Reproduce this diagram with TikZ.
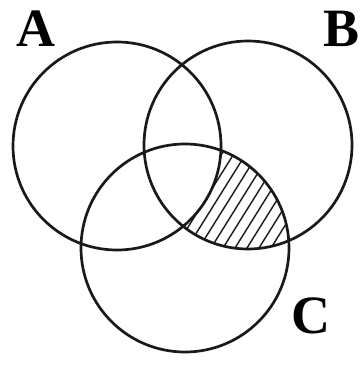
\documentclass[tikz,border=0pt]{standalone}
\usepackage{fontspec}
\setmainfont{Liberation Serif}
\begin{document}
\begin{tikzpicture}[x=1pt,y=-1pt,
  ring/.style={line width=2.7pt,draw=black!90},
  hatchline/.style={line width=1.4pt,draw=black!90},
  setlabel/.style={font=\bfseries\fontsize{54}{54}\selectfont,inner sep=0pt,anchor=base}]
\useasboundingbox[fill=white] (0,0) rectangle (359,366);
\coordinate (ca) at (117,146);
\coordinate (cb) at (248,145);
\coordinate (cc) at (185,248);
% hatched region: B and C, not A
\begin{scope}
  \clip (cb) circle (104pt);
  \clip (cc) circle (104pt);
  \foreach \k in {-100,-88,...,400}
    \draw[hatchline] (\k,400) -- (\k+250,0);
  \fill[white] (ca) circle (104pt);
\end{scope}
\draw[ring] (ca) circle (104pt);
\draw[ring] (cb) circle (104pt);
\draw[ring] (cc) circle (104pt);
\node[setlabel] (la) at (36,47) {A};
\node[setlabel] (lb) at (342,47) {B};
\node[setlabel] (lc) at (311,333) {C};
\end{tikzpicture}
\end{document}
